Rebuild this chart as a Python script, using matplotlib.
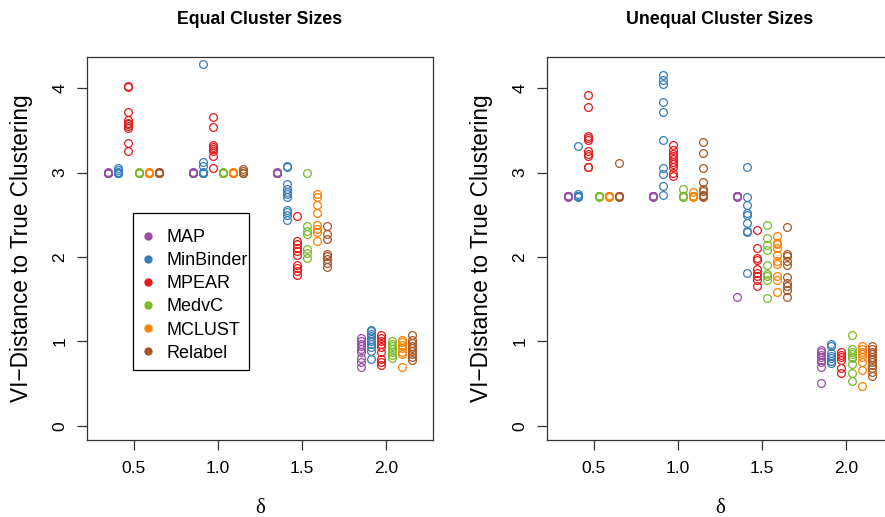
import matplotlib
matplotlib.use("Agg")
import matplotlib.pyplot as plt
from matplotlib.lines import Line2D
from matplotlib.patches import Rectangle

plt.rcParams['font.family'] = ['Liberation Sans', 'DejaVu Sans']

deltas = [0.5, 1.0, 1.5, 2.0]
methods = ["MAP", "MinBinder", "MPEAR", "MedvC", "MCLUST", "Relabel"]
colors = ["#984EA3", "#377EB8", "#E41A1C", "#7CBA2A", "#FF7F00", "#A65628"]
titles = ["Equal Cluster Sizes", "Unequal Cluster Sizes"]
xtick_labels = ["0.5", "1.0", "1.5", "2.0"]
ytick_vals = [0, 1, 2, 3, 4]

# ---- Equal cluster sizes: one list per delta (0.5, 1.0, 1.5, 2.0) ----
eq_MAP = [[3.0, 3.0, 3.0, 2.995, 3.005, 3.0],
          [3.0, 3.0, 3.0, 2.995, 3.005, 3.0],
          [3.0, 3.0, 3.0, 2.995, 3.005, 3.0],
          [1.04, 1.0, 0.97, 0.94, 0.91, 0.88, 0.80, 0.76, 0.70]]
eq_MinBinder = [[3.05, 3.03, 3.0, 3.0, 3.0, 2.995, 3.005],
                [4.28, 3.12, 3.08, 3.0, 3.0, 3.0, 3.005],
                [3.08, 3.06, 2.86, 2.80, 2.77, 2.74, 2.71, 2.56, 2.53, 2.50, 2.44],
                [1.14, 1.12, 1.09, 1.06, 1.03, 1.0, 0.97, 0.93, 0.89, 0.79]]
eq_MPEAR = [[4.03, 4.01, 3.72, 3.62, 3.59, 3.57, 3.55, 3.53, 3.35, 3.25],
            [3.66, 3.54, 3.33, 3.30, 3.28, 3.25, 3.19, 3.05],
            [2.49, 2.19, 2.15, 2.11, 2.07, 2.02, 1.91, 1.87, 1.83, 1.79],
            [1.07, 1.04, 1.01, 0.97, 0.93, 0.88, 0.79, 0.75, 0.72]]
eq_MedvC = [[3.0, 3.0, 3.0, 2.995, 3.005],
            [3.0, 3.0, 3.0, 2.995, 3.005],
            [3.0, 2.37, 2.31, 2.27, 2.09, 2.05, 1.99],
            [1.0, 0.97, 0.94, 0.91, 0.88, 0.84, 0.80]]
eq_MCLUST = [[3.0, 3.0, 3.0, 2.995, 3.005],
             [3.0, 3.0, 3.0, 2.995, 3.005],
             [2.74, 2.71, 2.61, 2.52, 2.38, 2.33, 2.29, 2.19],
             [1.02, 0.99, 0.96, 0.92, 0.88, 0.85, 0.70]]
eq_Relabel = [[3.0, 3.0, 3.01, 2.995, 3.005],
              [3.04, 3.02, 3.0, 3.0, 2.995],
              [2.37, 2.27, 2.21, 2.04, 2.01, 1.97, 1.93, 1.88],
              [1.08, 1.02, 0.98, 0.95, 0.92, 0.89, 0.85, 0.82, 0.78]]

# ---- Unequal cluster sizes ----
un_MAP = [[2.72, 2.72, 2.72, 2.715, 2.725, 2.72],
          [2.72, 2.72, 2.72, 2.715, 2.725, 2.72],
          [2.72, 2.72, 2.72, 2.715, 2.725, 1.53],
          [0.90, 0.87, 0.84, 0.81, 0.78, 0.76, 0.70, 0.51]]
un_MinBinder = [[3.31, 2.74, 2.72, 2.72, 2.72, 2.715, 2.725],
                [4.16, 4.09, 4.05, 3.84, 3.72, 3.39, 3.05, 2.98, 2.84, 2.73],
                [3.07, 2.71, 2.61, 2.52, 2.50, 2.40, 2.31, 2.29, 1.81],
                [0.97, 0.95, 0.86, 0.83, 0.80, 0.77, 0.74]]
un_MPEAR = [[3.92, 3.78, 3.43, 3.41, 3.39, 3.26, 3.22, 3.19, 3.07, 3.06],
            [3.32, 3.27, 3.22, 3.19, 3.16, 3.13, 3.10, 3.07, 3.0, 2.96],
            [2.32, 2.10, 1.99, 1.96, 1.86, 1.81, 1.77, 1.73, 1.65],
            [0.87, 0.84, 0.81, 0.78, 0.69, 0.62]]
un_MedvC = [[2.72, 2.72, 2.72, 2.715, 2.725],
            [2.80, 2.72, 2.72, 2.715, 2.725],
            [2.38, 2.22, 2.14, 2.08, 1.90, 1.80, 1.77, 1.73, 1.51],
            [1.07, 0.91, 0.88, 0.85, 0.82, 0.80, 0.73, 0.62, 0.53]]
un_MCLUST = [[2.72, 2.72, 2.72, 2.715, 2.725],
             [2.77, 2.72, 2.72, 2.715, 2.725],
             [2.25, 2.17, 2.15, 2.10, 2.02, 1.95, 1.92, 1.77, 1.73, 1.58],
             [0.94, 0.91, 0.88, 0.85, 0.82, 0.75, 0.66, 0.47]]
un_Relabel = [[3.11, 2.72, 2.72, 2.715, 2.725],
              [3.36, 3.23, 3.05, 2.89, 2.81, 2.78, 2.73, 2.72, 2.715],
              [2.35, 2.04, 2.01, 1.95, 1.90, 1.76, 1.69, 1.65, 1.61, 1.53],
              [0.94, 0.91, 0.88, 0.85, 0.82, 0.79, 0.76, 0.72, 0.68, 0.64, 0.59]]

panels = [
    [eq_MAP, eq_MinBinder, eq_MPEAR, eq_MedvC, eq_MCLUST, eq_Relabel],
    [un_MAP, un_MinBinder, un_MPEAR, un_MedvC, un_MCLUST, un_Relabel],
]

W, H = 885, 517
fig = plt.figure(figsize=(W / 100, H / 100), dpi=100)

ax_w = 346 / W
ax_h = (440 - 57) / H
ax_b = 1 - 440 / H
lefts = [87 / W, 547 / W]

offsets = [-0.15, -0.09, -0.03, 0.03, 0.09, 0.15]

for p, (data, left) in enumerate(zip(panels, lefts)):
    ax = fig.add_axes([left, ax_b, ax_w, ax_h])
    for m, series in enumerate(data):
        for d, vals in zip(deltas, series):
            xs = [d + offsets[m]] * len(vals)
            ax.plot(xs, vals, linestyle='none', marker='o', markersize=5.6,
                    markerfacecolor='none', markeredgecolor=colors[m],
                    markeredgewidth=0.9)
    ax.set_xlim(0.224, 2.276)
    ax.set_ylim(-0.168, 4.368)
    ax.set_xticks(deltas)
    ax.set_xticklabels(xtick_labels)
    ax.set_yticks(ytick_vals)
    ax.set_yticklabels([str(v) for v in ytick_vals], rotation=90, va='center')
    ax.tick_params(axis='both', direction='out', length=7, width=0.9,
                   labelsize=12.5, color='#333333')
    ax.tick_params(axis='x', pad=8)
    ax.tick_params(axis='y', pad=7)
    for s in ax.spines.values():
        s.set_linewidth(0.9)
        s.set_color('#333333')
    ax.set_ylabel("VI\u2212Distance to True Clustering", fontsize=16.3)
    ax.yaxis.label.set_va('center')
    ax.yaxis.set_label_coords(-0.188, 0.5)
    ax.set_xlabel("\u03b4", fontsize=15, family=['Liberation Serif', 'DejaVu Serif'])
    ax.xaxis.set_label_coords(0.5, -0.155)
    ax.text(0.5, 1.099, titles[p], transform=ax.transAxes, ha='center',
            va='center', fontsize=12.8, fontweight='bold')
    if p == 0:
        handles = [Line2D([], [], linestyle='none', marker='o', markersize=5,
                          color=c) for c in colors]
        leg = ax.legend(handles, methods, loc='upper left',
                        bbox_to_anchor=(139 / W, 1 - 229 / H),
                        bbox_transform=fig.transFigure, fontsize=13,
                        frameon=False, borderpad=0, labelspacing=0.34,
                        handlelength=1.0, handletextpad=0.5, borderaxespad=0)
        frame = Rectangle((133 / W, 1 - 370 / H), 116 / W, 157 / H,
                          transform=fig.transFigure, fill=False,
                          edgecolor='black', linewidth=0.9, zorder=5)
        fig.add_artist(frame)

fig.savefig("out.png", dpi=100)
